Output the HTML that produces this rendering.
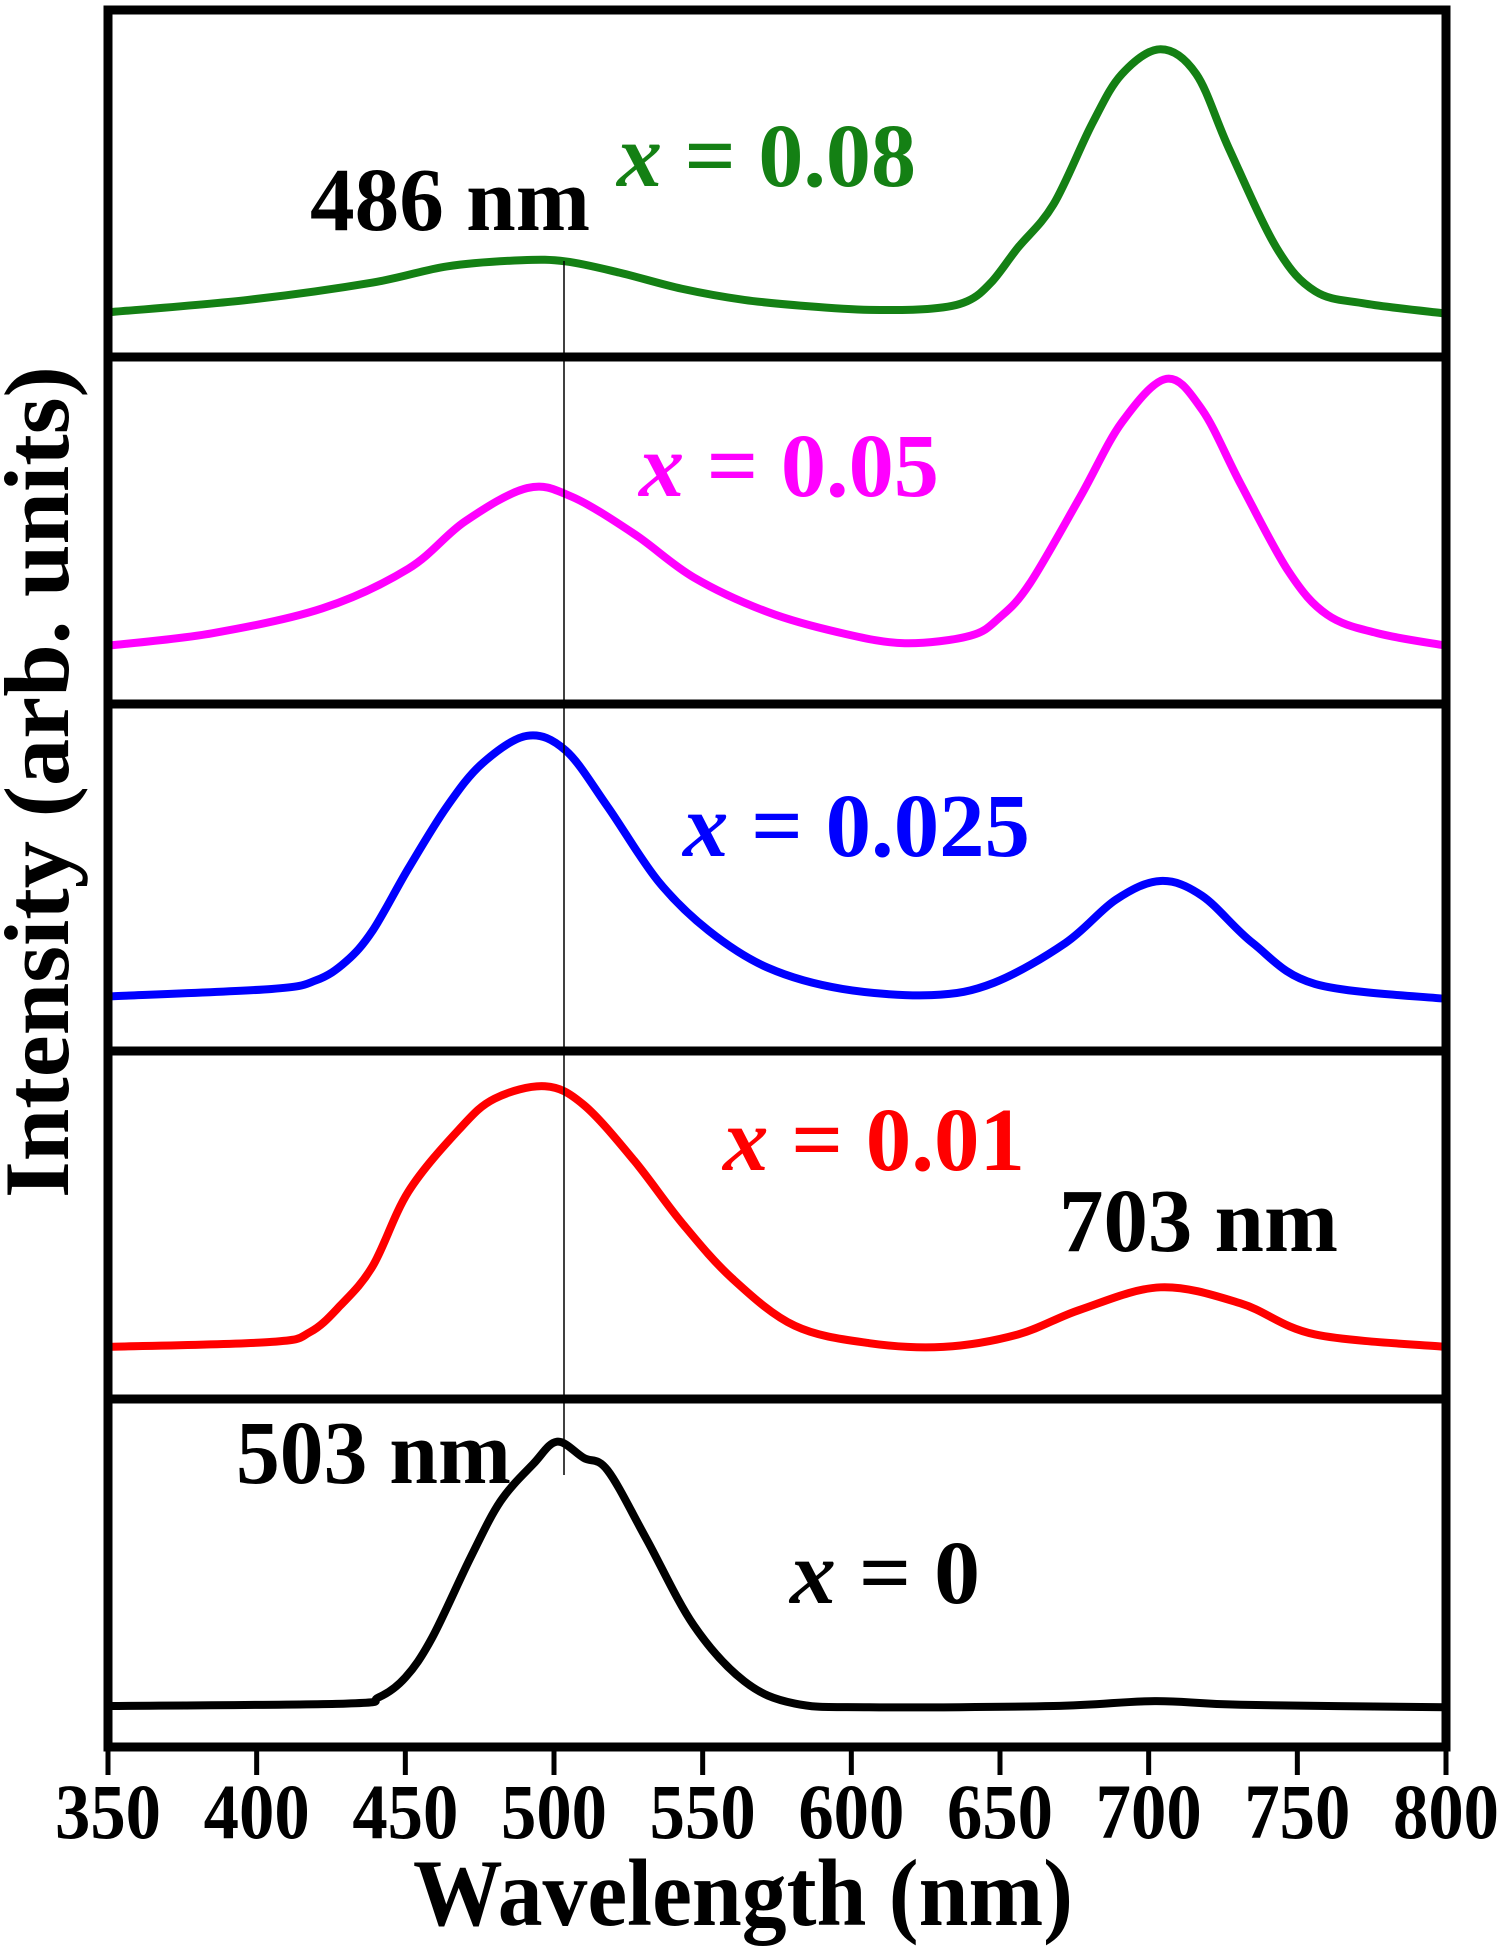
<!DOCTYPE html>
<html><head><meta charset="utf-8"><style>
html,body{margin:0;padding:0;background:#fff;}
svg{display:block;}
text{font-family:"Liberation Serif","DejaVu Serif",serif;font-weight:bold;}
</style></head>
<body>
<svg id="chart" width="1508" height="1948" viewBox="0 0 1508 1948" xmlns="http://www.w3.org/2000/svg">
<g id="curves"></g>
<g id="frame"></g>
<g id="ticks"></g>
<line x1="564" y1="261" x2="564" y2="1475" stroke="#000" stroke-width="1.5"/>
<text x="310" y="230" font-size="90" textLength="280" lengthAdjust="spacingAndGlyphs" fill="#000">486 nm</text>
<text x="617" y="186" font-size="90" textLength="299" lengthAdjust="spacingAndGlyphs" fill="#148014"><tspan font-style="italic">x</tspan> = 0.08</text>
<text x="639" y="496" font-size="90" textLength="300" lengthAdjust="spacingAndGlyphs" fill="#ff00ff"><tspan font-style="italic">x</tspan> = 0.05</text>
<text x="683" y="856" font-size="90" textLength="347" lengthAdjust="spacingAndGlyphs" fill="#0000ff"><tspan font-style="italic">x</tspan> = 0.025</text>
<text x="723" y="1170" font-size="90" textLength="302" lengthAdjust="spacingAndGlyphs" fill="#ff0000"><tspan font-style="italic">x</tspan> = 0.01</text>
<text x="1059" y="1251" font-size="90" textLength="279" lengthAdjust="spacingAndGlyphs" fill="#000">703 nm</text>
<text x="236" y="1483" font-size="90" textLength="275" lengthAdjust="spacingAndGlyphs" fill="#000">503 nm</text>
<text x="790" y="1603" font-size="90" textLength="190" lengthAdjust="spacingAndGlyphs" fill="#000"><tspan font-style="italic">x</tspan> = 0</text>
<text x="413" y="1925" font-size="95" textLength="660" lengthAdjust="spacingAndGlyphs" fill="#000">Wavelength (nm)</text>
<text transform="translate(68,1198) rotate(-90)" x="0" y="0" font-size="92" textLength="832" lengthAdjust="spacingAndGlyphs" fill="#000">Intensity (arb. units)</text>
</svg>
<script>
const xTicks = [350,400,450,500,550,600,650,700,750,800];
const greenNm = [350,397,439,464,489,504,522,543,564,585,606,627,639,647,656,668,681,691,704,716,727,743,756,773,800];
const greenI  = [36,46,60,73,78,77,68,55,46,41,38,39,45,60,88,123,188,228,248,228,168,88,53,43,35];
const magentaNm = [350,385,422,451,470,491,506,527,547,572,597,618,640,650,660,677,691,706,718,731,747,760,777,800];
const magentaI  = [47,57,77,109,147,174,167,137,102,74,57,49,55,70,97,167,227,262,237,177,107,72,57,47];
const blueNm = [350,405,420,430,439,451,464,476,491,504,518,535,552,572,597,627,648,672,689,704,718,735,756,800];
const blueI  = [44,50,57,72,97,147,197,232,254,242,197,137,97,67,50,45,55,87,122,137,125,87,54,42];
const redNm = [350,405,418,428,439,451,468,480,497,510,527,543,560,581,606,631,656,677,704,731,756,800];
const redI  = [42,46,54,75,107,167,217,242,252,237,192,142,97,59,45,42,52,72,90,77,52,42];
const blackNm = [350,430,441,450,459,472,482,493,501,510,518,531,547,564,581,606,668,702,731,800];
const blackI  = [33,35,40,56,88,153,198,228,246,233,223,168,98,53,35,32,33,37,34,32];

const NS = "http://www.w3.org/2000/svg";
const X0 = 108, X1 = 1446;
function xScale(nm){ return X0 + (nm-350)/(800-350)*(X1-X0); }
const panelTops = [10,357,704,1051,1399,1747];
function yScale(panel, v){ return panelTops[panel+1] - v*1.241; }

function pathFor(nm, vals, panel){
  const p = nm.map((n,i)=>[xScale(n), yScale(panel, vals[i])]);
  let d = "M"+p[0][0]+","+p[0][1];
  for(let i=0;i<p.length-1;i++){
    const p0=p[Math.max(0,i-1)], p1=p[i], p2=p[i+1], p3=p[Math.min(p.length-1,i+2)];
    const c1x=p1[0]+(p2[0]-p0[0])/6, c1y=p1[1]+(p2[1]-p0[1])/6;
    const c2x=p2[0]-(p3[0]-p1[0])/6, c2y=p2[1]-(p3[1]-p1[1])/6;
    d+=" C"+c1x+","+c1y+" "+c2x+","+c2y+" "+p2[0]+","+p2[1];
  }
  return d;
}
const curves = document.getElementById('curves');
function addCurve(nm, vals, panel, color, name){
  const el = document.createElementNS(NS,'path');
  el.setAttribute('d', pathFor(nm, vals, panel));
  el.setAttribute('fill','none');
  el.setAttribute('stroke', color);
  el.setAttribute('stroke-width','8');
  el.setAttribute('stroke-linejoin','round');
  
  
  curves.appendChild(el);
}
addCurve(greenNm, greenI, 0, '#148014', 'curve-x-0.08');
addCurve(magentaNm, magentaI, 1, '#ff00ff', 'curve-x-0.05');
addCurve(blueNm, blueI, 2, '#0000ff', 'curve-x-0.025');
addCurve(redNm, redI, 3, '#ff0000', 'curve-x-0.01');
addCurve(blackNm, blackI, 4, '#000000', 'curve-x-0');

const frame = document.getElementById('frame');
const rect = document.createElementNS(NS,'rect');
rect.setAttribute('x', X0); rect.setAttribute('y', panelTops[0]);
rect.setAttribute('width', X1-X0); rect.setAttribute('height', panelTops[5]-panelTops[0]);
rect.setAttribute('fill','none'); rect.setAttribute('stroke','#000'); rect.setAttribute('stroke-width','9');


frame.appendChild(rect);
for(let i=1;i<5;i++){
  const l = document.createElementNS(NS,'line');
  l.setAttribute('x1',X0); l.setAttribute('x2',X1);
  l.setAttribute('y1',panelTops[i]); l.setAttribute('y2',panelTops[i]);
  l.setAttribute('stroke','#000'); l.setAttribute('stroke-width','9');
  
  
  frame.appendChild(l);
}
const ticks = document.getElementById('ticks');
xTicks.forEach(t=>{
  const x = xScale(t);
  const l = document.createElementNS(NS,'line');
  l.setAttribute('x1',x); l.setAttribute('x2',x);
  l.setAttribute('y1',1747); l.setAttribute('y2',1775);
  l.setAttribute('stroke','#000'); l.setAttribute('stroke-width','5');
  
  
  ticks.appendChild(l);
  const tx = document.createElementNS(NS,'text');
  tx.setAttribute('x', x); tx.setAttribute('y', 1838);
  tx.setAttribute('text-anchor','middle');
  tx.setAttribute('font-size','78');
  tx.setAttribute('textLength','106');
  tx.setAttribute('lengthAdjust','spacingAndGlyphs');
  tx.textContent = t;
  
  
  ticks.appendChild(tx);
});
</script>
</body></html>
